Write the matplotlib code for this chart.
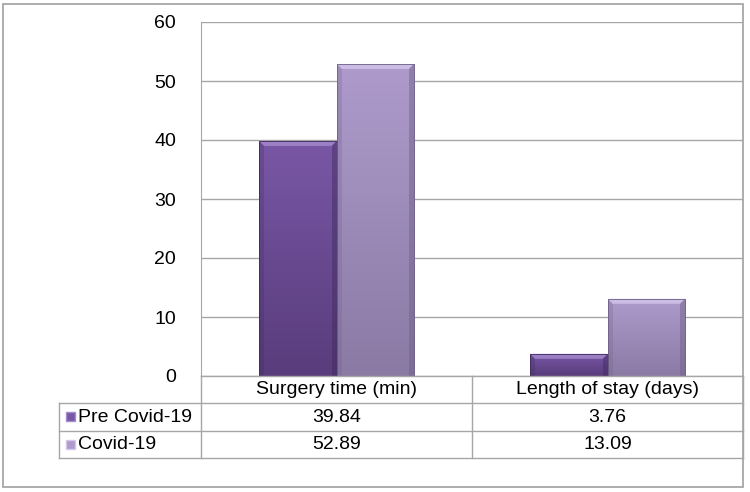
import numpy as np
import matplotlib.pyplot as plt
from matplotlib.patches import Rectangle, Polygon
from matplotlib.colors import LinearSegmentedColormap

plt.rcParams['font.family'] = ['Liberation Sans', 'DejaVu Sans']

categories = ["Surgery time (min)", "Length of stay (days)"]
series_names = ["Pre Covid-19", "Covid-19"]
pre_covid = [39.84, 3.76]
covid = [52.89, 13.09]
yticks = [0, 10, 20, 30, 40, 50, 60]

# gradient colours (top, bottom) + bevel highlight / shadow
styles = {
    "Pre Covid-19": dict(top="#7957a6", bot="#583c7b", light="#a58bcf", dark="#3f2a5c"),
    "Covid-19": dict(top="#ae9bcc", bot="#8a7aa4", light="#d3c6ea", dark="#6d5f86"),
}

W, H = 750, 492
fig = plt.figure(figsize=(W / 100, H / 100), dpi=100)
x0, x1, y_top, y_bot = 201, 743, 22, 376
ax = fig.add_axes([x0 / W, 1 - y_bot / H, (x1 - x0) / W, (y_bot - y_top) / H])

n = len(categories)
ax.set_xlim(-0.5, n - 0.5)
ax.set_ylim(0, 60)
ax.set_yticks(yticks)
ax.set_yticklabels([str(t) for t in yticks], fontsize=14)
ax.tick_params(axis='y', length=0, pad=18)
ax.set_xticks([])
ax.yaxis.grid(True, color="#a6a6a6", lw=1)
ax.set_axisbelow(True)
for s in ["top", "right", "bottom"]:
    ax.spines[s].set_visible(False)
ax.spines["left"].set_color("#a6a6a6")

# bar geometry: Excel style with 150% gap
bw = 1 / 3.5
x = np.arange(n)
grad = np.linspace(1, 0, 256).reshape(-1, 1)

# pixel sizes in data units
px_x = (n) / (x1 - x0)
px_y = 60 / (y_bot - y_top)
bev = 5

for j, (name, vals) in enumerate(zip(series_names, [pre_covid, covid])):
    st = styles[name]
    cmap = LinearSegmentedColormap.from_list(name, [st["bot"], st["top"]])
    for i, v in enumerate(vals):
        left = x[i] - bw + j * bw
        right = left + bw
        bars = ax.bar(left, v, width=bw, align="edge", color="none", zorder=2)
        rect = bars[0]
        im = ax.imshow(grad, cmap=cmap, aspect="auto", extent=[left, right, 0, v],
                       zorder=2, vmin=0, vmax=1)
        im.set_clip_path(rect)
        bx = bev * px_x
        by = bev * px_y
        # top bevel (highlight)
        ax.add_patch(Polygon([(left, v), (right, v), (right - bx, v - by), (left + bx, v - by)],
                             closed=True, color=st["light"], alpha=0.8, lw=0, zorder=3))
        # right bevel (shadow)
        ax.add_patch(Polygon([(right, v), (right, 0), (right - bx, 0), (right - bx, v - by)],
                             closed=True, color=st["dark"], alpha=0.45, lw=0, zorder=3))
        # left bevel (soft)
        ax.add_patch(Polygon([(left, v), (left, 0), (left + bx, 0), (left + bx, v - by)],
                             closed=True, color=st["dark"], alpha=0.25, lw=0, zorder=3))
        ax.add_patch(Rectangle((left, 0), bw, v, fill=False, ec=st["dark"], lw=0.6, zorder=4))

# data table below the axes (figure pixel coordinates)
line_c = "#a6a6a6"
def fx(p):
    return p / W
def fy(p):
    return 1 - p / H

rows_y = [376, 403, 431, 458]
col_x = [x0 + (x1 - x0) * k / n for k in range(n + 1)]
lab_x = 59

fig.add_artist(plt.Line2D([fx(x0), fx(x1)], [fy(376), fy(376)], color=line_c, lw=1))
for yy in rows_y[1:]:
    fig.add_artist(plt.Line2D([fx(lab_x), fx(x1)], [fy(yy), fy(yy)], color=line_c, lw=1))
fig.add_artist(plt.Line2D([fx(lab_x), fx(lab_x)], [fy(403), fy(458)], color=line_c, lw=1))
fig.add_artist(plt.Line2D([fx(x0), fx(x0)], [fy(376), fy(458)], color=line_c, lw=1))
for cx in col_x[1:]:
    fig.add_artist(plt.Line2D([fx(cx), fx(cx)], [fy(376), fy(458)], color=line_c, lw=1))

for i, cat in enumerate(categories):
    cx = (col_x[i] + col_x[i + 1]) / 2
    fig.text(fx(cx), fy((rows_y[0] + rows_y[1]) / 2), cat, ha="center", va="center", fontsize=14)
    for r, vals in enumerate([pre_covid, covid]):
        fig.text(fx(cx), fy((rows_y[r + 1] + rows_y[r + 2]) / 2), f"{vals[i]:.2f}",
                 ha="center", va="center", fontsize=14)

for r, name in enumerate(series_names):
    st = styles[name]
    yc = (rows_y[r + 1] + rows_y[r + 2]) / 2
    fig.add_artist(Rectangle((fx(66), fy(yc + 4)), 9 / W, 9 / H, transform=fig.transFigure,
                             facecolor=st["top"], edgecolor=st["light"], lw=1))
    fig.text(fx(78), fy(yc), name, ha="left", va="center", fontsize=14)

# outer chart border
fig.add_artist(Rectangle((fx(3), fy(487)), (x1 - 3) / W, (487 - 4) / H, transform=fig.transFigure,
                         fill=False, ec="#a0a0a0", lw=1.2))

fig.savefig("out.png", dpi=100)
